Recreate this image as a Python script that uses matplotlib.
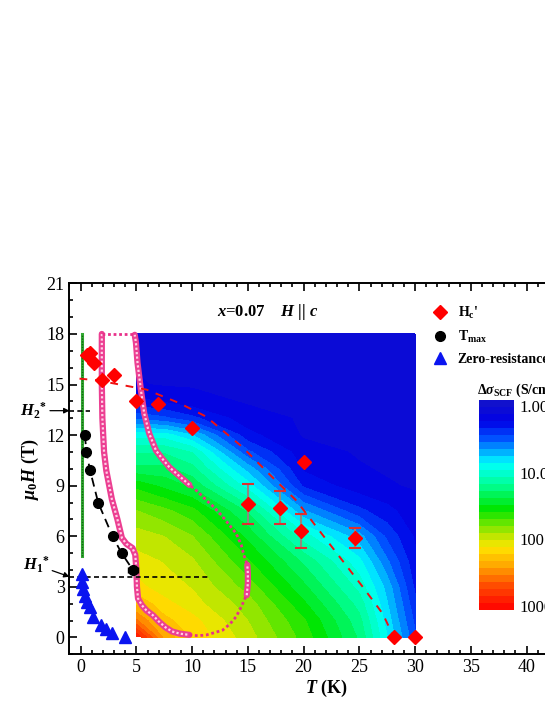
import numpy as np
import matplotlib
matplotlib.use("Agg")
import matplotlib.pyplot as plt
from matplotlib.colors import LinearSegmentedColormap
from matplotlib.lines import Line2D

plt.rcParams['font.family'] = ['Liberation Serif', 'DejaVu Serif']
plt.rcParams['mathtext.fontset'] = 'custom'
plt.rcParams['mathtext.rm'] = 'Liberation Serif'
plt.rcParams['mathtext.it'] = 'Liberation Serif:italic'
plt.rcParams['mathtext.bf'] = 'Liberation Serif:bold'
plt.rcParams['mathtext.bfit'] = 'Liberation Serif:italic:bold'

# Hc' points (T in K, mu0H in T) with error bars
hc_T = [0.6, 0.85, 1.2, 1.95, 2.95, 4.95, 6.9, 9.95, 15.0, 17.9, 19.8, 20.0, 24.6, 28.1, 30.0]
hc_H = [16.75, 16.9, 16.3, 15.25, 15.55, 14.0, 13.85, 12.45, 7.9, 7.7, 6.3, 10.4, 5.9, 0.0, 0.0]
hc_err = [0, 0, 0, 0, 0, 0, 0, 0, 1.19, 1.0, 1.0, 0, 0.6, 0, 0]

# dashed guide through Hc'
fit_T = [-0.1, 1.5, 3.5, 5.9, 8.85, 11.25, 14.5, 17.2, 19.3, 21.1, 23.2, 25.3, 27.1, 28.1]
fit_H = [15.35, 15.25, 15.0, 14.7, 13.9, 13.1, 11.3, 9.5, 8.15, 6.6, 4.8, 3.0, 1.4, 0.0]

# T_max points
tm_T = [0.38, 0.52, 0.83, 1.57, 2.86, 3.67, 4.69]
tm_H = [12.0, 11.0, 9.95, 8.0, 6.0, 5.0, 4.0]
tm_xerr = [0, 0, 0, 0, 0, 0, 0.45]

# zero-resistance points
zr_T = [0.15, 0.1, 0.25, 0.35, 0.55, 0.85, 1.15, 1.85, 2.3, 2.85, 3.95]
zr_H = [3.75, 3.3, 2.85, 2.45, 2.1, 1.8, 1.22, 0.75, 0.5, 0.27, 0.02]

# log10 of delta sigma_SCF on a coarse grid
map_T = [5, 7.5, 10, 15, 20, 25, 27.5, 30]
map_H = [0, 1, 2, 3, 4.5, 6, 7.5, 9, 10, 11, 12, 13, 14, 15, 18]
map_L = [
    [2.95, 2.4, 2.2, 1.95, 1.65, 1.25, 0.85, 0.45],
    [2.55, 2.25, 2.15, 1.9, 1.6, 1.2, 0.8, 0.4],
    [2.3, 2.15, 2.05, 1.85, 1.5, 1.12, 0.75, 0.35],
    [2.15, 2.05, 2.0, 1.75, 1.4, 1.02, 0.7, 0.3],
    [2.05, 2.0, 1.92, 1.6, 1.25, 0.88, 0.55, 0.25],
    [1.95, 1.9, 1.8, 1.45, 1.0, 0.68, 0.4, 0.2],
    [1.8, 1.72, 1.62, 1.25, 0.65, 0.35, 0.25, 0.15],
    [1.55, 1.45, 1.35, 0.9, 0.3, 0.15, 0.12, 0.1],
    [1.3, 1.3, 1.2, 0.7, 0.2, 0.12, 0.1, 0.1],
    [1.15, 1.15, 1.05, 0.45, 0.15, 0.1, 0.1, 0.1],
    [0.9, 0.9, 0.75, 0.25, 0.1, 0.1, 0.1, 0.1],
    [0.5, 0.45, 0.35, 0.15, 0.1, 0.08, 0.08, 0.08],
    [0.25, 0.2, 0.15, 0.1, 0.08, 0.08, 0.08, 0.08],
    [0.12, 0.1, 0.1, 0.08, 0.07, 0.07, 0.07, 0.07],
    [0.08, 0.06, 0.06, 0.06, 0.06, 0.06, 0.06, 0.06],
]

# pink boundary: thick and dotted parts
left_T = [1.9, 1.9, 1.95, 2.1, 2.3, 2.8, 3.3, 3.7, 4.1, 4.65, 4.9, 5.0, 5.05, 5.15, 5.5, 5.9, 6.5, 7.0, 7.6, 8.2, 8.9, 9.75]
left_H = [18.0, 15.0, 13.0, 11.0, 9.9, 8.2, 7.0, 5.9, 5.55, 5.3, 4.9, 4.0, 3.0, 2.3, 1.9, 1.6, 1.3, 0.95, 0.6, 0.35, 0.22, 0.15]
bot_T = [9.75, 10.5, 11.25, 12.0, 12.74, 13.4, 13.94, 14.4, 14.8]
bot_H = [0.15, 0.1, 0.14, 0.28, 0.43, 0.8, 1.22, 1.8, 2.4]
mid_T = [14.9, 15.0, 15.0, 14.95]
mid_H = [2.5, 3.2, 3.8, 4.3]
up_T = [14.9, 14.69, 14.4, 13.94, 13.3, 12.74, 12.0, 11.25, 10.5, 9.75]
up_H = [4.4, 4.78, 5.5, 6.17, 6.7, 7.16, 7.7, 8.15, 8.65, 9.05]
top_T = [9.75, 8.8, 7.95, 7.2, 6.75, 6.15, 5.7, 5.4, 5.1, 4.96, 4.85]
top_H = [9.05, 9.6, 10.1, 10.7, 11.1, 12.1, 13.3, 14.7, 16.3, 17.5, 17.95]
cap_T = [1.9, 4.85]
cap_H = [18.0, 18.0]

H1_star = 3.6
H2_star = 13.45

cmap = LinearSegmentedColormap.from_list('scf', [
    (0.00, '#1414c8'), (0.10, '#0000e6'), (0.18, '#0050ff'), (0.25, '#00b0ff'),
    (0.30, '#00ffff'), (0.40, '#00ff99'), (0.52, '#00e600'), (0.62, '#99e600'),
    (0.70, '#ffe600'), (0.80, '#ffa000'), (0.88, '#ff5000'), (1.00, '#ff0000')])

fig = plt.figure(figsize=(5.45, 7.05), dpi=100)
ax = fig.add_axes([0.1275, 0.072, 0.941, 0.526])

levels = np.linspace(-0.1, 3.06, 31)
cf = ax.contourf(map_T, map_H, np.array(map_L), levels=levels, cmap=cmap, extend='both', zorder=1)

# green line
ax.plot([0.12, 0.12], [4.8, 18], color='#33aa33', lw=2.2, zorder=3)
ax.plot([0.12, 0.12], [4.8, 18], color='#146614', lw=1.0, ls=(0, (1, 1)), zorder=3)

# pink boundary
for xs, ys in [(left_T, left_H), (mid_T, mid_H), (top_T, top_H)]:
    ax.plot(xs, ys, color='#ec3f92', lw=4.5, solid_capstyle='round', zorder=4)
    ax.plot(xs, ys, color='#ffd0e6', lw=1.6, ls=(0, (1, 1)), zorder=4)
for xs, ys in [(bot_T, bot_H), (up_T, up_H), (cap_T, cap_H)]:
    ax.plot(xs, ys, color='#e8308a', lw=2.0, ls=(0, (1, 1)), zorder=4)

# dashed guides
ax.plot([-1, 0.8], [H2_star, H2_star], color='black', lw=1.2, ls=(0, (3, 2)), zorder=5)
ax.plot([-1, 11.5], [H1_star, H1_star], color='black', lw=1.2, ls=(0, (3, 2)), zorder=5)
ax.plot(fit_T, fit_H, color='#ee1111', lw=1.4, ls=(0, (4, 4)), zorder=5)
ax.plot(tm_T, tm_H, color='black', lw=1.3, ls=(0, (5, 3)), zorder=5)

# data
err_T = [t for t, e in zip(hc_T, hc_err) if e > 0]
err_H = [h for h, e in zip(hc_H, hc_err) if e > 0]
err_e = [e for e in hc_err if e > 0]
ax.errorbar(err_T, err_H, yerr=err_e, fmt='none', ecolor='#8c8c80', elinewidth=1.5, zorder=6)
ax.plot(err_T, [h + e for h, e in zip(err_H, err_e)], ls='none', marker='_', ms=8, mew=1.5, color='#e03030', zorder=6)
ax.plot(err_T, [h - e for h, e in zip(err_H, err_e)], ls='none', marker='_', ms=8, mew=1.5, color='#e03030', zorder=6)
ax.plot(hc_T, hc_H, ls='none', marker='D', ms=7, color='#ff0000', zorder=7, clip_on=False)
ax.errorbar(tm_T, tm_H, xerr=tm_xerr, fmt='o', ms=7, color='black', capsize=2, elinewidth=1, zorder=7)
ax.plot(zr_T, zr_H, ls='none', marker='^', ms=8, color='#0a14f0', zorder=7)

ax.set_xlim(-1, 45)
ax.set_ylim(-1, 21)
ax.set_xticks(np.arange(0, 45, 5))
ax.set_xticks(np.arange(-1, 45, 1), minor=True)
ax.set_yticks(np.arange(0, 22, 3))
ax.set_yticks(np.arange(-1, 22, 1), minor=True)
ax.tick_params(which='both', direction='in', top=True, right=True, labelsize=13, width=1.2)
ax.tick_params(which='major', length=5.5)
ax.tick_params(which='minor', length=3)
for s in ax.spines.values():
    s.set_linewidth(1.4)

ax.set_xlabel(r'$\mathbfit{T}$ (K)', fontsize=13, fontweight='bold', labelpad=1)
ax.set_ylabel(r'$\mathbfit{\mu}_\mathbf{0}\mathbfit{H}$ (T)', fontsize=13, fontweight='bold', labelpad=4)
ax.text(0.387, 0.923, r'$\mathbfit{x}$=0.07    $\mathbfit{H}$ || $\mathbfit{c}$', transform=ax.transAxes,
        ha='center', va='center', fontsize=12, fontweight='bold')

arrow = dict(arrowstyle='-|>', color='black', lw=0.9, mutation_scale=8, shrinkA=0, shrinkB=0)
ax.annotate(r'$\mathbfit{H}_\mathbf{2}{}^\mathbf{*}$', xy=(-1, H2_star), xytext=(-3.0, H2_star),
            ha='right', va='center', fontsize=12, arrowprops=arrow, annotation_clip=False)
ax.annotate(r'$\mathbfit{H}_\mathbf{1}{}^\mathbf{*}$', xy=(-1, H1_star), xytext=(-2.8, 4.3),
            ha='right', va='center', fontsize=12, arrowprops=arrow, annotation_clip=False)

handles = [Line2D([], [], ls='none', marker='D', ms=7, color='#ff0000'),
           Line2D([], [], ls='none', marker='o', ms=7, color='black'),
           Line2D([], [], ls='none', marker='^', ms=8, color='#0a14f0')]
labels = [r"$\mathbf{H_c}$'", r'$\mathbf{T_{max}}$', 'Zero-resistance']
fig.legend(handles, labels, loc='upper left', bbox_to_anchor=(0.785, 0.575), frameon=False,
           handlelength=1.0, handletextpad=0.75, labelspacing=0.55, borderaxespad=0,
           prop={'weight': 'bold', 'size': 10})

cax = fig.add_axes([0.879, 0.135, 0.064, 0.298])
cbar = fig.colorbar(cf, cax=cax, ticks=[0, 1, 2, 3], extendfrac=0)
cbar.ax.set_yticklabels(['1.000', '10.00', '100.0', '1000'])
cbar.ax.invert_yaxis()
cbar.outline.set_visible(False)
cbar.ax.tick_params(length=0, pad=4, labelsize=12)
fig.text(0.875, 0.447, r'$\mathbf{\Delta}\mathbfit{\sigma}_\mathbf{SCF}$ (S/cm)', fontsize=10,
         fontweight='bold', ha='left', va='center')

fig.savefig('out.png', dpi=100)
